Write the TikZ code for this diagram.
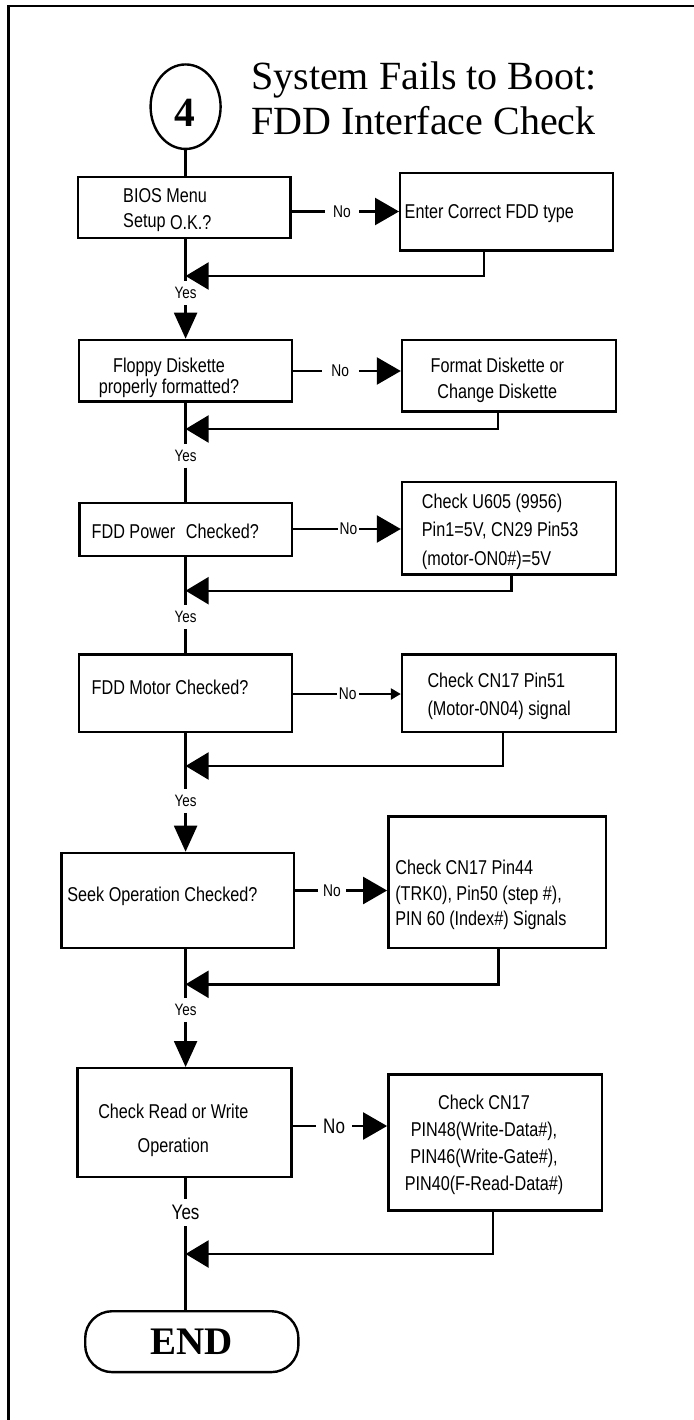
\documentclass[tikz,border=0pt]{standalone}
\usepackage{fontspec}
\setmainfont{Liberation Sans}[FakeStretch=0.81]
\newfontfamily\titlefont{Liberation Serif}
\usetikzlibrary{arrows.meta,shapes.geometric}
\newcommand\mlines[3]{\fontsize{20}{#1}\selectfont\begin{tabular}[t]{@{}#2@{}}#3\end{tabular}}
\begin{document}
\begin{tikzpicture}[x=1pt,y=-1pt,
  box/.style={draw,line width=2.4pt,inner sep=0pt},
  conn/.style={line width=2.4pt},
  noarr/.style={conn,-{Triangle[length=24pt,width=27pt]}},
  smallarr/.style={conn,-{Triangle[length=10pt,width=11pt]}},
  downarr/.style={conn,-{Triangle[length=26pt,width=23pt]}},
  mergearr/.style={conn,-{Triangle[length=23pt,width=27pt]}},
  txt/.style={inner sep=0pt,font=\fontsize{20}{24}\selectfont},
  yeslbl/.style={inner xsep=1pt,inner ysep=6pt,font=\fontsize{16.5}{18}\selectfont},
  nolbl/.style={inner ysep=2pt,font=\fontsize{17}{18}\selectfont},
  titletxt/.style={inner sep=0pt,anchor=base west,font={\titlefont\fontsize{40}{44}\selectfont}}
]
\useasboundingbox (0,0) rectangle (693,1420);
\fill[white] (0,0) rectangle (693,1420);
% frame
\draw[line width=2.7pt] (8.7,1430) -- (8.7,6) -- (700,6);

% title
\node[titletxt] (title1) at (251,89.3) {System Fails to Boot:};
\node[titletxt] (title2) at (251,135) {FDD Interface Check};
\node[draw,ellipse,line width=2.4pt,minimum width=70pt,minimum height=84.5pt,inner sep=0pt] (c4) at (185.6,106.7) {};
\node[inner sep=0pt,font={\titlefont\bfseries\fontsize{41.5}{44}\selectfont}] (four) at (184.5,112.7) {4};

% boxes
\node[box,minimum width=212.7pt,minimum height=60.9pt] (bios) at (184.05,207.65) {};
\node[box,minimum width=212.8pt,minimum height=77.6pt] (enter) at (506.6,211.7) {};
\node[box,minimum width=213.2pt,minimum height=61.6pt] (floppy) at (185.6,370.7) {};
\node[box,minimum width=213.7pt,minimum height=71.3pt] (format) at (508.85,375.85) {};
\node[box,minimum width=212.8pt,minimum height=53.2pt] (power) at (185.8,529.5) {};
\node[box,minimum width=213.7pt,minimum height=92.6pt] (u605) at (508.85,528.2) {};
\node[box,minimum width=213.2pt,minimum height=77.6pt] (motor) at (185.6,693.3) {};
\node[box,minimum width=213.7pt,minimum height=77.6pt] (pin51) at (508.85,693.3) {};
\node[box,minimum width=232.7pt,minimum height=95.2pt] (seek) at (177.65,900.5) {};
\node[box,minimum width=217.7pt,minimum height=131.6pt] (pin44) at (497.15,882.3) {};
\node[box,minimum width=213.7pt,minimum height=108.9pt] (rw) at (184.45,1122.65) {};
\node[box,minimum width=213.7pt,minimum height=136pt] (pin48) at (495.15,1142.5) {};
\node[box,rounded corners=27pt,minimum width=213.2pt,minimum height=60.9pt,font={\titlefont\bfseries\fontsize{39}{42}\selectfont}] (endnode) at (191.8,1341.65) {END};

% box texts
\node[txt,anchor=base west] (tbios) at (123,202.2) {\mlines{25}{l}{BIOS Menu\\Setup \raisebox{-2.5pt}{O.K.?}}};
\node[txt,anchor=base west] (tenter) at (404.5,218.2) {Enter Correct FDD type};
\node[txt,anchor=base] (tfloppy) at (169,372.2) {\mlines{21.7}{c}{Floppy Diskette\\properly formatted?}};
\node[txt,anchor=base] (tformat) at (497.3,372.2) {\mlines{26.7}{c}{Format Diskette or\\Change Diskette}};
\node[txt,anchor=base west] (tpower) at (91.5,538.9) {FDD Power\hspace{6pt} Checked?};
\node[txt,anchor=base west] (tu605) at (421.7,508.2) {\mlines{28.6}{l}{Check U605 (9956)\\Pin1=5V, CN29 Pin53\\(motor-ON0\#)=5V}};
\node[txt,anchor=base west] (tmotor) at (91.5,694.9) {FDD Motor Checked?};
\node[txt,anchor=base west] (tpin51) at (427.3,687.9) {\mlines{27.6}{l}{Check CN17 Pin51\\(Motor-0N04) signal}};
\node[txt,anchor=base west] (tseek) at (67.2,901.2) {Seek Operation Checked?};
\node[txt,anchor=base west] (tpin44) at (395.1,874.9) {\mlines{25.3}{l}{Check CN17 Pin44\\(TRK0), Pin50 (step \#),\\PIN 60 (Index\#) Signals}};
\node[txt,anchor=base] (trw) at (173.3,1118.9) {\mlines{33.3}{c}{Check Read or Write\\Operation}};
\node[txt,anchor=base] (tpin48) at (484,1109.9) {\mlines{26.7}{c}{Check CN17\\PIN48(Write-Data\#),\\PIN46(Write-Gate\#),\\PIN40(F-Read-Data\#)}};

% yes labels
\node[yeslbl] (yes1) at (185.6,293.3) {Yes};
\node[yeslbl] (yes2) at (185.6,455.7) {Yes};
\node[yeslbl] (yes3) at (185.6,617.3) {Yes};
\node[yeslbl] (yes4) at (185.6,801) {Yes};
\node[yeslbl] (yes5) at (185.6,1010) {Yes};
\node[yeslbl,font=\fontsize{21}{23}\selectfont] (yes6) at (185.6,1212.7) {Yes};

% no labels
\node[nolbl,inner xsep=8pt] (no1) at (342,211.5) {No};
\node[nolbl,inner xsep=9.7pt] (no2) at (340.25,371) {No};
\node[nolbl,inner xsep=1.6pt] (no3) at (348.4,529) {No};
\node[nolbl,inner xsep=2.2pt] (no4) at (347.75,694) {No};
\node[nolbl,inner xsep=5.2pt] (no5) at (332,890.5) {No};
\node[nolbl,inner xsep=7.2pt,font=\fontsize{21}{23}\selectfont] (no6) at (334.1,1126) {No};

% merge points
\coordinate (m1) at (185.6,276);
\coordinate (m2) at (185.6,429);
\coordinate (m3) at (185.6,590.7);
\coordinate (m4) at (185.6,766);
\coordinate (m5) at (185.6,984.3);
\coordinate (m6) at (185.6,1254);

% main flow
\draw[conn] (c4.south) -- (c4.south |- bios.north);
\draw[conn] (bios.south -| yes1) -- (yes1.north);
\draw[downarr] (yes1.south) -- (yes1.south |- floppy.north);
\draw[conn] (floppy.south -| yes2) -- (yes2.north);
\draw[conn] (yes2.south) -- (yes2.south |- power.north);
\draw[conn] (power.south -| yes3) -- (yes3.north);
\draw[conn] (yes3.south) -- (yes3.south |- motor.north);
\draw[conn] (motor.south -| yes4) -- (yes4.north);
\draw[downarr] (yes4.south) -- (yes4.south |- seek.north);
\draw[conn] (seek.south -| yes5) -- (yes5.north);
\draw[downarr] (yes5.south) -- (yes5.south |- rw.north);
\draw[conn] (rw.south -| yes6) -- (yes6.north);
\draw[conn] (yes6.south) -- (yes6.south |- endnode.north);

% no branches
\draw[conn] (bios.east |- no1) -- (no1.west);
\draw[noarr] (no1.east) -- (enter.west |- no1);
\draw[conn] (floppy.east |- no2) -- (no2.west);
\draw[noarr] (no2.east) -- (format.west |- no2);
\draw[conn] (power.east |- no3) -- (no3.west);
\draw[noarr] (no3.east) -- (u605.west |- no3);
\draw[conn] (motor.east |- no4) -- (no4.west);
\draw[smallarr] (no4.east) -- (pin51.west |- no4);
\draw[conn] (seek.east |- no5) -- (no5.west);
\draw[noarr] (no5.east) -- (pin44.west |- no5);
\draw[conn] (rw.east |- no6) -- (no6.west);
\draw[noarr] (no6.east) -- (pin48.west |- no6);

% returns
\draw[mergearr] ([xshift=-22.6pt]enter.south) |- (m1);
\draw[mergearr] ([xshift=-10.85pt]format.south) |- (m2);
\draw[mergearr] ([xshift=2.45pt]u605.south) |- (m3);
\draw[mergearr] ([xshift=-5.95pt]pin51.south) |- (m4);
\draw[mergearr] ([xshift=1.35pt]pin44.south) |- (m5);
\draw[mergearr] ([xshift=-2.45pt]pin48.south) |- (m6);
\end{tikzpicture}
\end{document}
